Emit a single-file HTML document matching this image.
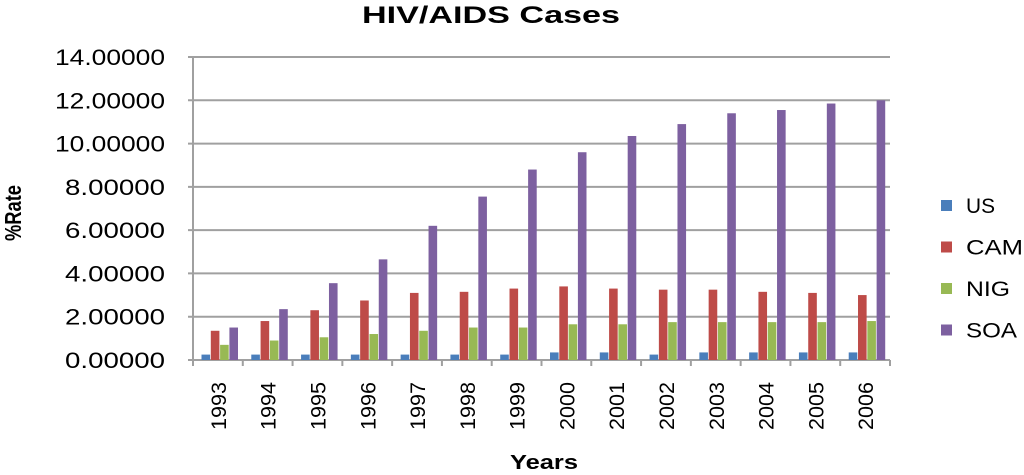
<!DOCTYPE html>
<html><head><meta charset="utf-8"><style>
body{margin:0;background:#fff;width:1024px;height:470px;overflow:hidden;font-family:"Liberation Sans",sans-serif}
</style></head><body>
<svg id="chart" width="1024" height="470" font-family="Liberation Sans, sans-serif"></svg>
<script>
const years=["1993","1994","1995","1996","1997","1998","1999","2000","2001","2002","2003","2004","2005","2006"];
const seriesNames=["US","CAM","NIG","SOA"];
const usVals=[0.25,0.25,0.25,0.25,0.25,0.25,0.25,0.35,0.35,0.25,0.35,0.35,0.35,0.35];
const camVals=[1.35,1.8,2.3,2.75,3.1,3.15,3.3,3.4,3.3,3.25,3.25,3.15,3.1,3.0];
const nigVals=[0.7,0.9,1.05,1.2,1.35,1.5,1.5,1.65,1.65,1.75,1.75,1.75,1.75,1.8];
const soaVals=[1.5,2.35,3.55,4.65,6.2,7.55,8.8,9.6,10.35,10.9,11.4,11.55,11.85,12.0];
const yTicks=[0,2,4,6,8,10,12,14];
const colors=["#4a7ebb","#be4b48","#98b954","#7d60a0"];
const legendLens=[29,57,44,51];
const svg=document.getElementById('chart');
const NS='http://www.w3.org/2000/svg';
function mk(t,a,p){const e=document.createElementNS(NS,t);for(const k in a)e.setAttribute(k,a[k]);(p||svg).appendChild(e);return e;}
const x0=193,x1=890,yb=360,yt=57,ymax=14;
const y=v=>yb-(v/ymax)*(yb-yt);
const bw=(x1-x0)/years.length;
const xs=i=>x0+i*bw;
yTicks.forEach(v=>{
  const g=mk('line',{x1:x0-5,x2:x1,y1:y(v),y2:y(v),stroke:'#a0a0a0','stroke-width':2});
  
  
  const w=v>=10?110:100;
  const t=mk('text',{x:165-w,y:y(v)+8,'font-size':22,fill:'#000',textLength:w,lengthAdjust:'spacingAndGlyphs'});
  t.textContent=v.toFixed(5);
  
  
});
const ax=mk('line',{x1:x0,x2:x0,y1:yt,y2:yb+6,stroke:'#a0a0a0','stroke-width':2});


for(let i=0;i<=years.length;i++){
  const tk=mk('line',{x1:xs(i),x2:xs(i),y1:yb,y2:yb+6,stroke:'#a0a0a0','stroke-width':2});
  
  
}
const all=[usVals,camVals,nigVals,soaVals];
years.forEach((yr,i)=>{
  all.forEach((arr,s)=>{
    const bx=xs(i)+8.5+s*9.3;
    const r=mk('rect',{x:bx,y:y(arr[i]),width:8.6,height:yb-y(arr[i]),fill:colors[s]});
    
    
  });
  const cx=xs(i)+bw/2, cy=382;
  const t=mk('text',{x:cx+8,y:cy,'text-anchor':'end','font-size':21,textLength:48,lengthAdjust:'spacingAndGlyphs',transform:`rotate(-90 ${cx+8} ${cy})`});
  t.textContent=yr;
  
  
});
const title=mk('text',{x:362,y:23,'font-size':24,'font-weight':'bold',textLength:258,lengthAdjust:'spacingAndGlyphs'});
title.textContent='HIV/AIDS Cases';


const xt=mk('text',{x:510,y:469,'font-size':20,'font-weight':'bold',textLength:68,lengthAdjust:'spacingAndGlyphs'});
xt.textContent='Years';


const yl=mk('text',{x:21,y:241,'font-size':23,'font-weight':'bold',textLength:56,lengthAdjust:'spacingAndGlyphs',transform:'rotate(-90 21 241)'});
yl.textContent='%Rate';


seriesNames.forEach((n,s)=>{
  const ly=205+s*41.5;
  const r=mk('rect',{x:941,y:ly-5,width:11,height:11,fill:colors[s]});
  
  
  const t=mk('text',{x:966,y:ly+8,'font-size':21,textLength:legendLens[s],lengthAdjust:'spacingAndGlyphs'});
  t.textContent=n;
  
  
});
</script>
</body></html>
